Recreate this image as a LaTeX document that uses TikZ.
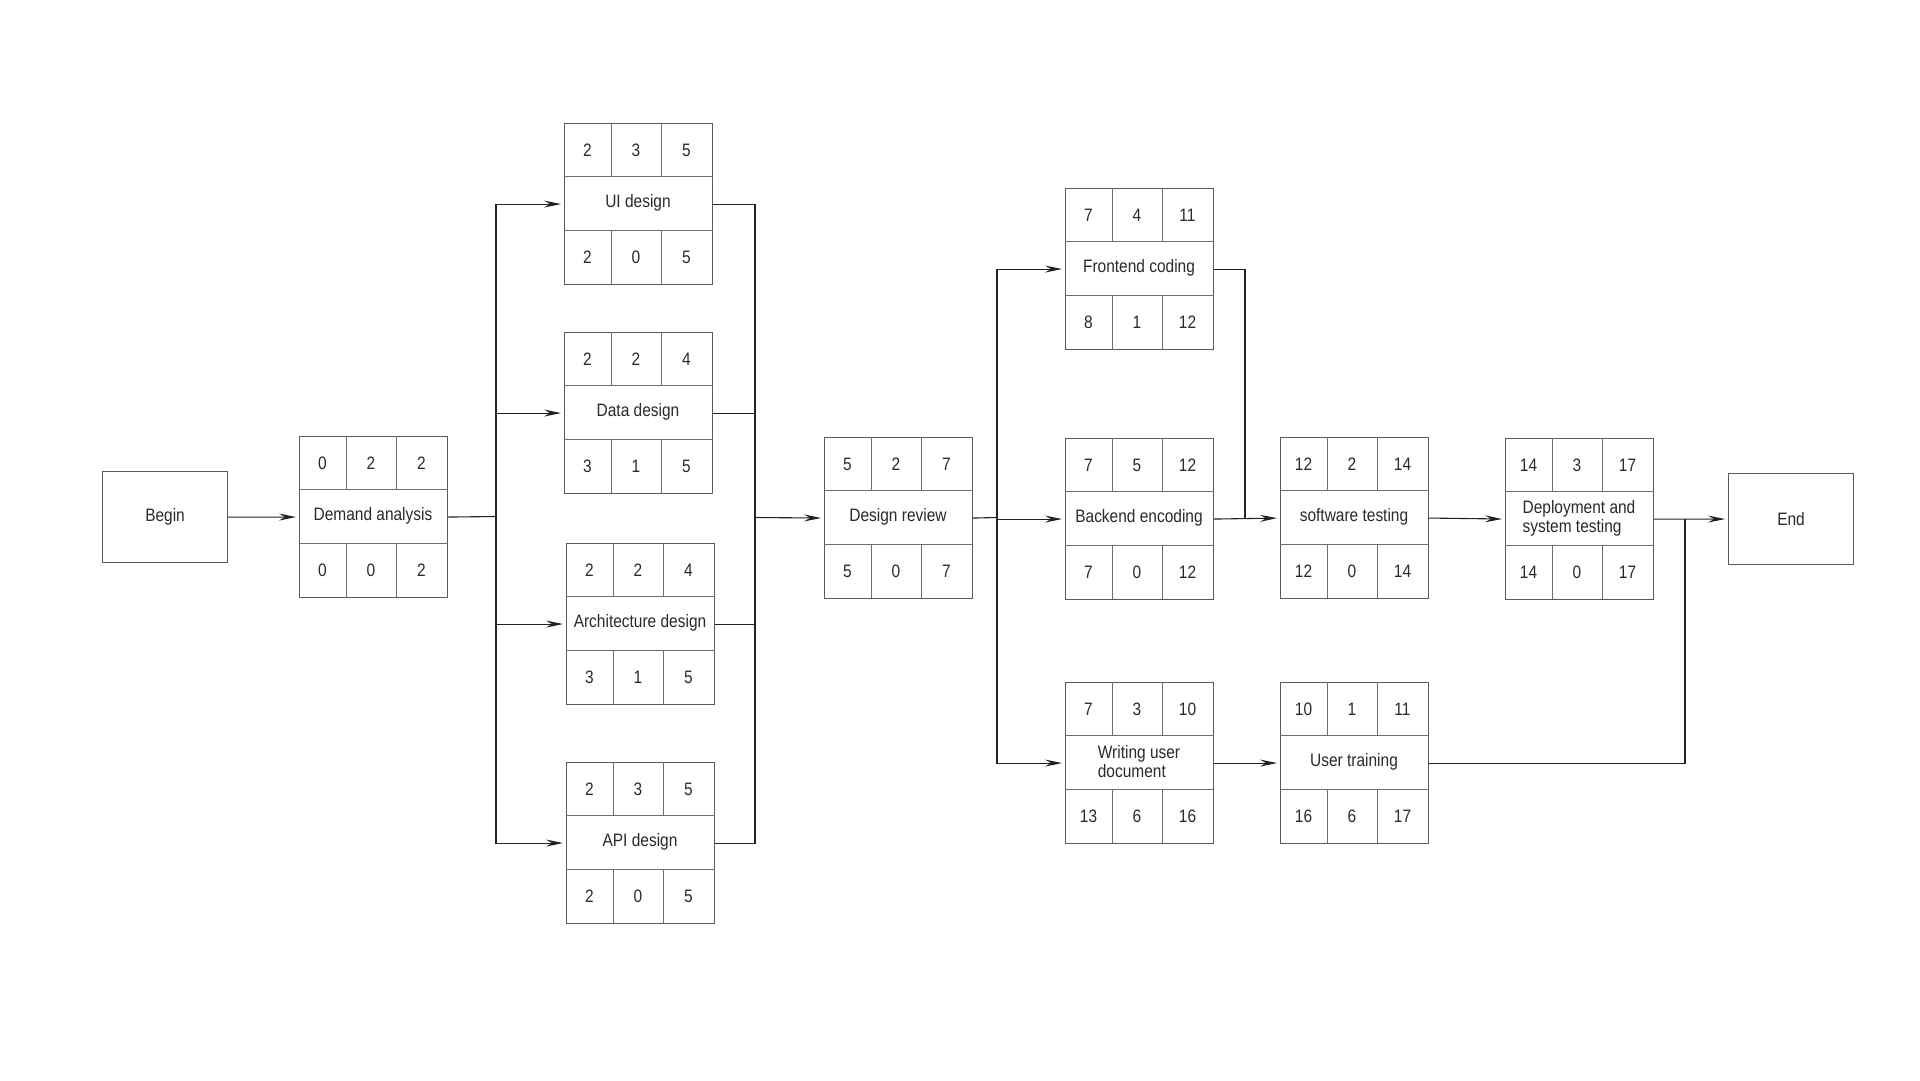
\documentclass[tikz,border=0pt]{standalone}
\usepackage{fontspec}
\setmainfont{Liberation Sans}[FakeStretch=0.86]
\usetikzlibrary{arrows.meta,calc}

\definecolor{boxline}{HTML}{5A5A5A}
\definecolor{cellline}{HTML}{6E6E6E}
\definecolor{wire}{HTML}{222222}
\definecolor{ink}{HTML}{2A2A2A}

\tikzset{
  txt/.style={font=\fontsize{18bp}{19bp}\selectfont, text=ink, inner sep=0pt},
  endpoint/.style={draw=boxline, line width=1.1bp, rectangle, minimum width=125bp,
    minimum height=91bp, anchor=north west, txt},
  taskbox/.style={draw=boxline, line width=1.1bp, rectangle, minimum width=148bp,
    minimum height=161bp, anchor=north west, inner sep=0pt},
  divider/.style={draw=cellline, line width=1bp},
  tasklabel/.style={txt, align=left},
  num/.style={txt},
  wireline/.style={draw=wire, line width=1.1bp},
  flow/.style={wireline, -{Stealth[length=17bp,width=7bp,inset=6bp]}, shorten >=3bp},
}

% one activity box: name, top-left corner, activity name
\newcommand{\activity}[3]{%
  \node[taskbox] (#1) at (#2) {};
  \node[tasklabel] (#1-name) at ($(#1.north west)+(74,80)$) {#3};
  \draw[divider] ($(#1.north west)+(0,53)$) -- ($(#1.north east)+(0,53)$);
  \draw[divider] ($(#1.north west)+(0,107)$) -- ($(#1.north east)+(0,107)$);
  \foreach \cx in {47,97} {
    \draw[divider] ($(#1.north west)+(\cx,0)$) -- ($(#1.north west)+(\cx,53)$);
    \draw[divider] ($(#1.north west)+(\cx,107)$) -- ($(#1.north west)+(\cx,161)$);
  }%
}
% the six schedule figures of an activity
\newcommand{\cells}[7]{%
  \node[num] (#1-es) at ($(#1.north west)+(23.5,27)$) {#2};
  \node[num] (#1-du) at ($(#1.north west)+(72,27)$) {#3};
  \node[num] (#1-ef) at ($(#1.north west)+(122.5,27)$) {#4};
  \node[num] (#1-ls) at ($(#1.north west)+(23.5,134)$) {#5};
  \node[num] (#1-fl) at ($(#1.north west)+(72,134)$) {#6};
  \node[num] (#1-lf) at ($(#1.north west)+(122.5,134)$) {#7};
}

\begin{document}
\begin{tikzpicture}[x=1bp,y=-1bp]
\fill[white] (0,0) rectangle (1920,1080);
\useasboundingbox (0,0) rectangle (1920,1080);

% start and finish
\node[endpoint] (begin) at (102,471) {Begin};
\node[endpoint] (finish) at (1728,473) {End};

% activities
\activity{demand}{299,436}{Demand analysis}
\cells{demand}{0}{2}{2}{0}{0}{2}
\activity{ui}{564,123}{UI design}
\cells{ui}{2}{3}{5}{2}{0}{5}
\activity{data}{564,332}{Data design}
\cells{data}{2}{2}{4}{3}{1}{5}
\activity{arch}{566,543}{Architecture design}
\cells{arch}{2}{2}{4}{3}{1}{5}
\activity{api}{566,762}{API design}
\cells{api}{2}{3}{5}{2}{0}{5}
\activity{review}{824,437}{Design review}
\cells{review}{5}{2}{7}{5}{0}{7}
\activity{front}{1065,188}{Frontend coding}
\cells{front}{7}{4}{11}{8}{1}{12}
\activity{back}{1065,438}{Backend encoding}
\cells{back}{7}{5}{12}{7}{0}{12}
\activity{docs}{1065,682}{Writing user\\document}
\cells{docs}{7}{3}{10}{13}{6}{16}
\activity{testing}{1280,437}{software testing}
\cells{testing}{12}{2}{14}{12}{0}{14}
\activity{training}{1280,682}{User training}
\cells{training}{10}{1}{11}{16}{6}{17}
\activity{deploy}{1505,438}{Deployment and\\system testing}
\cells{deploy}{14}{3}{17}{14}{0}{17}

% junction points of the branching lines
\coordinate (splitA) at (496,516.5);
\coordinate (joinA) at (755,517.5);
\coordinate (splitB) at (997,517.5);
\coordinate (joinB) at (1245,518.5);
\coordinate (joinC) at (1685,518.5);

% connectors
\draw[flow] (begin) -- (demand);
\draw[wireline] (demand.east) -- (splitA);
\foreach \t in {ui,data,arch,api} {
  \draw[flow] (splitA) |- (\t.west);
  \draw[wireline] (\t.east) -| (joinA);
}
\draw[flow] (joinA) -- (review.west);
\draw[wireline] (review.east) -- (splitB);
\foreach \t in {front,back,docs} {
  \draw[flow] (splitB) |- (\t.west);
}
\draw[wireline] (front.east) -| (joinB);
\draw[flow] (back.east) -- (testing.west);
\draw[flow] (docs.east) -- (training.west);
\draw[flow] (testing.east) -- (deploy.west);
\draw[flow] (deploy.east) -- (finish.west);
\draw[wireline] (training.east) -| (joinC);
\end{tikzpicture}
\end{document}
